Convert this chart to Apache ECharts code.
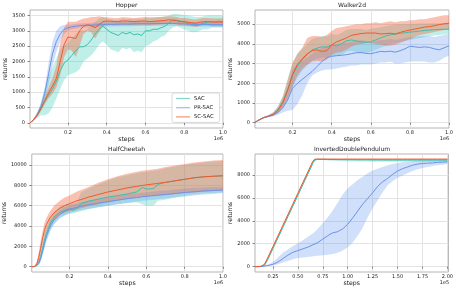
<!DOCTYPE html>
<html><head><meta charset="utf-8">
<script src="https://cdn.jsdelivr.net/npm/echarts@6/dist/echarts.min.js"></script>
<style>html,body{margin:0;padding:0;background:#fff}#c{width:456px;height:290px}</style>
</head><body><div id="c"></div>
<script>
// ---------- Hopper ----------
const hopperX = [0.005,0.02,0.04,0.06,0.08,0.10,0.12,0.14,0.16,0.18,0.20,0.22,0.24,0.26,0.28,0.30,0.32,0.34,0.36,0.38,0.40,0.42,0.44,0.46,0.48,0.50,0.52,0.54,0.56,0.58,0.60,0.62,0.64,0.66,0.68,0.70,0.72,0.74,0.76,0.78,0.80,0.82,0.84,0.86,0.88,0.90,0.92,0.94,0.96,0.98,1.00];
const hopperSAC = [0,80,230,450,700,900,1100,1350,1700,1950,2050,2200,2350,2480,2480,2550,2700,2900,3050,3150,3050,2950,2900,2850,2950,2900,2950,2870,2900,2850,3000,3000,3050,3050,3100,3150,3250,3350,3350,3320,3300,3250,3200,3170,3200,3250,3280,3300,3300,3310,3300];
const hopperSACLow = [0,60,150,250,250,300,500,800,1100,1400,1550,1600,1650,1750,2000,2100,2200,2350,2550,2650,2550,2400,2350,2300,2450,2400,2450,2300,2350,2300,2500,2550,2650,2700,2800,2850,3000,3100,3150,3100,3050,3000,2950,2950,3000,3050,3050,3100,3100,3100,3100];
const hopperSACHigh = [0,100,320,650,1100,1500,1800,2100,2400,2550,2600,2750,2900,3000,3000,3050,3150,3300,3400,3450,3400,3380,3350,3350,3400,3380,3400,3380,3400,3380,3450,3450,3450,3450,3450,3480,3500,3550,3550,3530,3520,3500,3480,3450,3450,3480,3500,3500,3500,3500,3500];
const hopperPR = [0,90,260,520,950,1600,2250,2650,2900,3050,3100,3130,3150,3170,3180,3180,3190,3190,3200,3200,3210,3210,3210,3220,3220,3220,3220,3230,3230,3230,3230,3230,3240,3240,3240,3240,3240,3240,3240,3230,3230,3220,3220,3210,3210,3210,3210,3200,3200,3200,3200];
const hopperPRLow = [0,70,210,420,750,1250,1850,2300,2650,2900,3000,3050,3070,3100,3110,3110,3120,3120,3130,3130,3140,3140,3140,3150,3150,3150,3150,3160,3160,3160,3160,3160,3170,3170,3170,3170,3170,3170,3170,3160,3160,3150,3150,3140,3140,3140,3140,3130,3130,3130,3130];
const hopperPRHigh = [0,110,310,620,1150,1950,2650,3000,3150,3200,3200,3210,3230,3240,3250,3250,3260,3260,3270,3270,3280,3280,3280,3290,3290,3290,3290,3300,3300,3300,3300,3300,3310,3310,3310,3310,3310,3310,3310,3300,3300,3290,3290,3280,3280,3280,3280,3270,3270,3270,3270];
const hopperSC = [0,80,230,450,720,980,1200,1450,2000,2550,2800,2780,2750,3000,3150,3200,3170,3100,3200,3300,3320,3310,3300,3300,3320,3320,3310,3300,3310,3320,3320,3300,3310,3320,3330,3340,3360,3350,3330,3300,3300,3280,3260,3250,3280,3300,3300,3290,3280,3290,3280];
const hopperSCLow = [0,60,180,380,600,800,950,1150,1550,2150,2400,2350,2150,2500,2900,3000,2950,2750,2950,3150,3200,3190,3180,3180,3200,3200,3190,3180,3190,3200,3200,3180,3190,3200,3210,3220,3240,3230,3210,3180,3180,3160,3140,3130,3160,3180,3180,3170,3160,3170,3160];
const hopperSCHigh = [0,100,290,520,850,1150,1450,1850,2600,3100,3300,3300,3300,3350,3400,3420,3450,3450,3480,3450,3440,3430,3420,3420,3440,3440,3430,3420,3430,3440,3440,3420,3430,3440,3450,3460,3480,3470,3450,3420,3420,3400,3380,3370,3400,3420,3420,3410,3400,3410,3400];

// ---------- Walker2d ----------
const walkerX = [0.005,0.025,0.05,0.075,0.10,0.125,0.15,0.175,0.20,0.225,0.25,0.275,0.30,0.325,0.35,0.375,0.40,0.425,0.45,0.475,0.50,0.525,0.55,0.575,0.60,0.625,0.65,0.675,0.70,0.725,0.75,0.775,0.80,0.825,0.85,0.875,0.90,0.925,0.95,0.975,1.00];
const walkerSAC = [0,120,250,330,420,650,1070,1700,2400,2900,3200,3450,3700,3780,3850,3830,3950,3900,4000,4150,4200,4150,4100,4080,4100,4200,4300,4400,4460,4500,4540,4560,4600,4620,4650,4680,4700,4720,4730,4740,4750];
const walkerSACLow = [0,100,220,290,360,500,800,1200,1800,2300,2650,2900,3150,3250,3300,3300,3400,3400,3450,3600,3650,3600,3550,3550,3600,3700,3800,3900,4000,4050,4100,4150,4200,4250,4300,4350,4400,4420,4450,4480,4500];
const walkerSACHigh = [0,140,280,370,500,820,1350,2200,3000,3500,3750,4000,4250,4320,4400,4380,4500,4450,4550,4700,4750,4750,4750,4700,4750,4800,4850,4900,4950,4980,5000,5000,5020,5020,5030,5040,5050,5050,5050,5050,5050];
const walkerPR = [0,120,240,310,380,520,750,1150,1750,2000,2200,2400,2600,2850,3100,3300,3370,3400,3420,3450,3500,3550,3560,3520,3500,3560,3620,3600,3630,3580,3650,3750,3880,3850,3820,3850,3820,3750,3700,3800,3900];
const walkerPRLow = [0,100,200,270,320,400,520,600,650,950,1400,2000,2400,2550,2650,2700,2700,2750,2800,2850,2900,2900,2950,2950,2950,3000,3050,3050,3100,3000,3000,3050,3100,3100,3100,3100,3050,3050,3150,3300,3400];
const walkerPRHigh = [0,140,280,350,450,650,1000,1700,2700,3000,3150,3300,3500,3650,3800,3900,3950,4000,4050,4050,4100,4150,4200,4150,4100,4150,4200,4200,4250,4200,4250,4300,4350,4350,4400,4400,4400,4350,4400,4450,4500];
const walkerSC = [0,120,250,330,420,620,1000,1650,2450,2950,3250,3500,3650,3700,3620,3650,3950,4100,4200,4300,4430,4480,4520,4550,4550,4550,4500,4520,4540,4500,4580,4650,4700,4750,4800,4850,4880,4920,4980,5020,5050];
const walkerSCLow = [0,100,220,290,350,480,750,1200,1850,2400,2750,2950,3100,3150,3100,3200,3450,3550,3600,3700,3850,3950,4000,4050,4050,4000,3950,3900,3900,3950,4050,4150,4250,4350,4450,4500,4550,4600,4650,4700,4700];
const walkerSCHigh = [0,140,280,380,520,800,1300,2150,3050,3500,3800,4300,4400,4400,4350,4450,4650,4800,4850,4900,4950,5000,5000,5050,5050,5100,5050,5100,5150,5100,5150,5150,5200,5200,5250,5250,5300,5350,5400,5450,5450];

// ---------- HalfCheetah ----------
const cheetahX = [0.005,0.02,0.03,0.04,0.05,0.06,0.07,0.08,0.10,0.12,0.15,0.175,0.20,0.22,0.24,0.26,0.30,0.35,0.40,0.45,0.50,0.55,0.58,0.60,0.62,0.64,0.66,0.70,0.75,0.80,0.85,0.90,0.95,1.00];
const cheetahSAC = [0,20,100,400,1000,1800,2600,3300,4200,4850,5350,5550,5700,5550,5750,6200,6450,6650,6850,7000,7150,7350,7800,7650,7650,7700,8100,8300,8450,8600,8750,8850,8900,8950];
const cheetahSACLow = [0,10,50,200,600,1200,1900,2600,3600,4300,4850,5050,5200,5250,5350,5450,5650,5850,6000,6150,6250,6350,6150,6000,6000,6050,6500,6600,6800,6950,7100,7200,7250,7300];
const cheetahSACHigh = [0,40,200,700,1500,2400,3300,3900,4800,5400,5900,6100,6250,6200,6350,7300,7700,8100,8450,8800,9000,9200,9300,9350,9400,9450,9500,9700,9850,10000,10150,10250,10350,10400];
const cheetahPR = [0,20,80,300,800,1500,2300,3000,4000,4600,5150,5450,5650,5750,5850,5950,6100,6250,6400,6550,6700,6800,6880,6920,6960,7000,7040,7100,7200,7300,7380,7450,7500,7550];
const cheetahPRLow = [0,10,40,150,500,1100,1800,2500,3500,4150,4750,5050,5250,5350,5450,5550,5700,5850,6000,6150,6300,6400,6480,6520,6560,6600,6640,6700,6800,6900,7000,7100,7150,7250];
const cheetahPRHigh = [0,30,120,450,1100,1900,2800,3500,4500,5050,5550,5850,6050,6150,6250,6350,6500,6650,6800,6950,7100,7200,7280,7320,7360,7400,7440,7500,7600,7700,7760,7800,7850,7850];
const cheetahSC = [0,50,300,900,1800,2800,3600,4150,4850,5300,5750,6000,6200,6350,6500,6600,6850,7100,7350,7550,7750,7900,8000,8050,8100,8150,8200,8300,8450,8600,8750,8850,8900,8950];
const cheetahSCLow = [0,30,150,500,1200,2100,2900,3500,4200,4650,5100,5300,5450,5550,5650,5750,5950,6150,6350,6500,6650,6800,6850,6900,6950,6950,7000,7050,7150,7250,7300,7400,7450,7500];
const cheetahSCHigh = [0,80,500,1400,2500,3500,4300,4800,5500,6000,6500,6800,7000,7200,7400,7550,7850,8250,8600,8900,9150,9350,9450,9500,9550,9600,9650,9800,9950,10100,10250,10350,10450,10500];

// ---------- InvertedDoublePendulum ----------
const idpX = [0.07,0.10,0.13,0.15,0.165,0.2,0.25,0.3,0.35,0.4,0.45,0.5,0.55,0.6,0.65,0.67,0.7,0.75,0.8,0.85,0.9,0.95,1.0,1.05,1.1,1.15,1.2,1.25,1.3,1.35,1.4,1.45,1.5,1.55,1.6,1.65,1.7,1.75,1.8,1.85,1.9,1.95,2.0];
const idpSAC = [0,0,15,40,100,650,1580,2500,3430,4360,5290,6220,7150,8080,9010,9300,9370,9360,9350,9350,9340,9340,9330,9330,9320,9320,9320,9310,9310,9310,9300,9300,9300,9300,9300,9300,9300,9300,9300,9300,9300,9300,9300];
const idpSACLow = [0,0,5,20,60,580,1500,2420,3350,4280,5210,6140,7070,8000,8930,9240,9330,9300,9270,9250,9230,9220,9200,9190,9180,9170,9170,9160,9160,9150,9150,9150,9150,9150,9150,9150,9150,9160,9160,9160,9160,9160,9160];
const idpSACHigh = [0,0,25,60,140,720,1660,2580,3510,4440,5370,6300,7230,8160,9090,9360,9400,9400,9400,9400,9400,9400,9400,9400,9400,9400,9400,9400,9400,9400,9400,9400,9400,9400,9400,9400,9400,9400,9400,9400,9400,9400,9400];
const idpPR = [0,0,10,30,50,100,200,400,700,1000,1250,1400,1550,1700,1900,1950,2100,2400,2700,2950,3050,3300,3700,4250,4850,5450,5950,6450,7000,7400,7700,8050,8350,8550,8700,8850,8950,9000,9030,9050,9100,9120,9140];
const idpPRLow = [0,0,5,15,25,50,100,200,350,500,650,750,800,850,900,920,950,1000,1030,1100,1200,1400,1700,2100,2700,3400,4300,5100,5800,6500,7100,7450,7750,7950,8150,8350,8500,8600,8700,8780,8850,8900,8950];
const idpPRHigh = [0,0,20,50,80,180,400,800,1200,1500,1800,2050,2300,2600,2900,3050,3300,3800,4300,4900,5600,6300,6850,7200,7550,7850,8150,8400,8550,8700,8850,8950,9050,9100,9150,9200,9230,9260,9280,9290,9300,9300,9300];
const idpSC = [0,0,30,80,200,815,1745,2676,3607,4538,5469,6400,7331,8262,9193,9380,9380,9380,9380,9380,9380,9380,9380,9380,9380,9380,9380,9380,9380,9380,9380,9380,9380,9380,9380,9380,9380,9380,9380,9380,9380,9380,9380];
const idpSCLow = [0,0,10,50,150,750,1680,2610,3540,4470,5400,6330,7260,8190,9120,9340,9340,9340,9340,9340,9340,9340,9340,9340,9340,9340,9340,9340,9340,9340,9340,9340,9340,9340,9340,9340,9340,9340,9340,9340,9340,9340,9340];
const idpSCHigh = [0,0,50,110,250,880,1810,2740,3670,4600,5530,6460,7400,8330,9260,9410,9410,9410,9410,9410,9410,9410,9410,9410,9410,9410,9410,9410,9410,9410,9410,9410,9410,9410,9410,9410,9410,9410,9410,9410,9410,9410,9410];

// ---------- tick labels ----------
const topXTicks = [0.2,0.4,0.6,0.8,1.0];
const idpXTicks = [0.25,0.5,0.75,1.0,1.25,1.5,1.75,2.0];
const hopperYTicks = [0,500,1000,1500,2000,2500,3000,3500];
const walkerYTicks = [0,1000,2000,3000,4000,5000];
const cheetahYTicks = [0,2000,4000,6000,8000,10000];
const idpYTicks = [0,2000,4000,6000,8000];
const titles = ['Hopper','Walker2d','HalfCheetah','InvertedDoublePendulum'];
const methodNames = ['SAC','PR-SAC','SC-SAC'];
const offsetTexts = ['1e6','1e6','1e6','1e5'];

const FONT = 'DejaVu Sans';
const STYLE = {
  'SAC':    {line:'#3bbfaa', band:'rgba(62,206,186,0.33)'},
  'PR-SAC': {line:'#6a92ea', band:'rgba(100,149,237,0.30)'},
  'SC-SAC': {line:'#f2592a', band:'rgba(242,105,70,0.42)'}
};

const panels = [
  {x:hopperX, xr:[0.004,1.0], yr:[-170,3680], xt:topXTicks, yt:hopperYTicks, dec:1,
   grid:{left:30, top:10, width:193, height:118},
   m:{'SAC':[hopperSAC,hopperSACLow,hopperSACHigh],'PR-SAC':[hopperPR,hopperPRLow,hopperPRHigh],'SC-SAC':[hopperSC,hopperSCLow,hopperSCHigh]}},
  {x:walkerX, xr:[0.008,1.0], yr:[-270,5720], xt:topXTicks, yt:walkerYTicks, dec:1,
   grid:{left:255, top:10, width:194, height:118},
   m:{'SAC':[walkerSAC,walkerSACLow,walkerSACHigh],'PR-SAC':[walkerPR,walkerPRLow,walkerPRHigh],'SC-SAC':[walkerSC,walkerSCLow,walkerSCHigh]}},
  {x:cheetahX, xr:[0.004,1.0], yr:[-520,11090], xt:topXTicks, yt:cheetahYTicks, dec:1,
   grid:{left:30, top:154, width:193, height:118},
   m:{'SAC':[cheetahSAC,cheetahSACLow,cheetahSACHigh],'PR-SAC':[cheetahPR,cheetahPRLow,cheetahPRHigh],'SC-SAC':[cheetahSC,cheetahSCLow,cheetahSCHigh]}},
  {x:idpX, xr:[0.07,2.01], yr:[-470,9830], xt:idpXTicks, yt:idpYTicks, dec:2,
   grid:{left:255, top:154, width:194, height:118},
   m:{'SAC':[idpSAC,idpSACLow,idpSACHigh],'PR-SAC':[idpPR,idpPRLow,idpPRHigh],'SC-SAC':[idpSC,idpSCLow,idpSCHigh]}}
];

function bandSeries(i, xs, lo, hi, color){
  return {type:'custom', coordinateSystem:'cartesian2d', xAxisIndex:i, yAxisIndex:i,
    silent:true, z:1, clip:true,
    data: xs.map((v,k)=>[v, lo[k], hi[k]]),
    encode:{x:0, y:[1,2]},
    renderItem:(params, api)=>{
      if (params.dataIndex !== 0) return null;
      const pts = [];
      for (let k=0;k<xs.length;k++) pts.push(api.coord([xs[k], hi[k]]));
      for (let k=xs.length-1;k>=0;k--) pts.push(api.coord([xs[k], lo[k]]));
      return {type:'polygon', shape:{points:pts}, style:{fill:color, stroke:null}};
    }};
}

const grids=[], xAxes=[], yAxes=[], bands=[], lines=[], graphics=[];
panels.forEach((p,i)=>{
  grids.push(Object.assign({show:true, borderColor:'#b4b4b4', borderWidth:1, backgroundColor:'#fff'}, p.grid));
  xAxes.push({gridIndex:i, type:'value', min:p.xr[0], max:p.xr[1],
    axisLine:{show:false},
    axisTick:{show:true, length:2, lineStyle:{color:'#555', width:0.7}, customValues:p.xt},
    axisLabel:{customValues:p.xt, fontSize:5, fontFamily:FONT, color:'#222', margin:2,
      formatter:v=>Number(v).toFixed(p.dec)},
    splitLine:{show:true, lineStyle:{color:'#e3e3e3', width:1}},
    name:'steps', nameLocation:'middle', nameGap:7.5,
    nameTextStyle:{fontSize:6.2, fontFamily:FONT, color:'#222'}});
  yAxes.push({gridIndex:i, type:'value', min:p.yr[0], max:p.yr[1],
    axisLine:{show:false},
    axisTick:{show:true, length:2.5, lineStyle:{color:'#555', width:0.7}, customValues:p.yt},
    axisLabel:{customValues:p.yt, fontSize:5, fontFamily:FONT, color:'#222', margin:5,
      formatter:v=>String(Math.round(v))},
    splitLine:{show:true, lineStyle:{color:'#e3e3e3', width:1}},
    name:'returns', nameLocation:'middle', nameGap:16.5,
    nameTextStyle:{fontSize:6.2, fontFamily:FONT, color:'#222'}});
  methodNames.forEach(name=>{
    const [mean, lo, hi] = p.m[name];
    bands.push(bandSeries(i, p.x, lo, hi, STYLE[name].band));
    lines.push({type:'line', name:name, xAxisIndex:i, yAxisIndex:i,
      data:p.x.map((v,k)=>[v, mean[k]]), symbol:'none', showSymbol:false, silent:true,
      lineStyle:{color:STYLE[name].line, width:1}, itemStyle:{color:STYLE[name].line}, z:3});
  });
  const g = p.grid;
  graphics.push({type:'text', x:g.left+g.width/2, y:g.top-5, style:{text:titles[i], fontSize:6, fontFamily:FONT, fill:'#222', align:'center', verticalAlign:'middle'}});
  graphics.push({type:'text', x:g.left+g.width-4.5, y:g.top+g.height+11, style:{text:offsetTexts[i], fontSize:5, fontFamily:FONT, fill:'#222', align:'center', verticalAlign:'middle'}});
});

const chart = echarts.init(document.getElementById('c'), null, {renderer:'canvas'});
chart.setOption({
  animation:false,
  backgroundColor:'#fff',
  grid:grids, xAxis:xAxes, yAxis:yAxes,
  series:bands.concat(lines),
  legend:{data:methodNames, left:172, top:93, orient:'vertical', icon:'rect',
    itemWidth:14, itemHeight:1.3, itemGap:4.2, padding:[3,6,3,4],
    backgroundColor:'#fff', borderColor:'#cfcfcf', borderWidth:0.8, borderRadius:2,
    itemStyle:{opacity:0.6},
    textStyle:{fontSize:5.3, fontFamily:FONT, color:'#222', padding:[0,0,0,-1]}},
  graphic:graphics
});
</script></body></html>
